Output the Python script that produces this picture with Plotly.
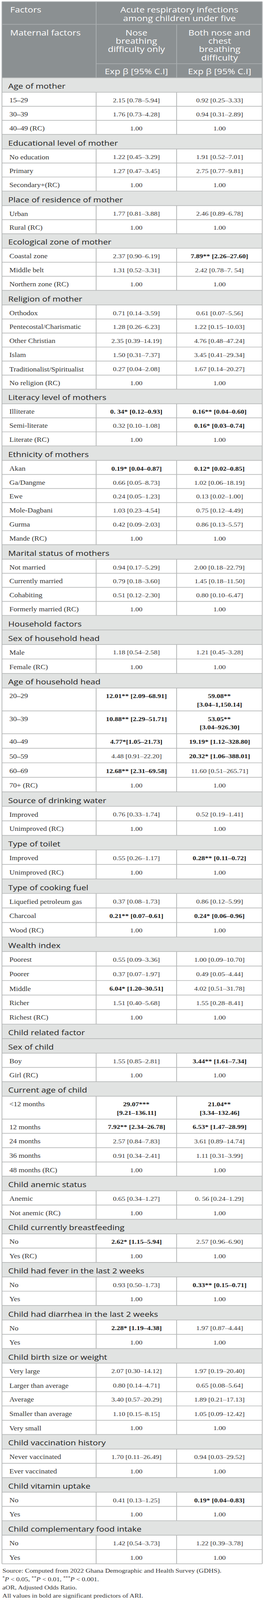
import plotly.graph_objects as go

# ---- data -------------------------------------------------------------
title_lines = ["Acute respiratory infections", "among children under five"]
nose_title = ["Nose", "breathing", "difficulty only"]
both_title = ["Both nose and", "chest", "breathing", "difficulty"]
stat_title = "Exp β [95% C.I]"

section_titles = [
    "Age of mother", "Educational level of mother", "Place of residence of mother",
    "Ecological zone of mother", "Religion of mother", "Literacy level of mothers",
    "Ethnicity of mothers", "Marital status of mothers", "Household factors",
    "Sex of household head", "Age of household head", "Source of drinking water",
    "Type of toilet", "Type of cooking fuel", "Wealth index", "Child related factor",
    "Sex of child", "Current age of child", "Child anemic status",
    "Child currently breastfeeding", "Child had fever in the last 2 weeks",
    "Child had diarrhea in the last 2 weeks", "Child birth size or weight",
    "Child vaccination history", "Child vitamin uptake", "Child complementary food intake",
]
rows_per_section = [3, 3, 2, 3, 6, 3, 6, 4, 0, 2, 6, 2, 2, 3, 5, 0, 2, 5, 2, 2, 2, 2, 5, 2, 2, 2]

row_labels = [
    "15–29", "30–39", "40–49 (RC)",
    "No education", "Primary", "Secondary+(RC)",
    "Urban", "Rural (RC)",
    "Coastal zone", "Middle belt", "Northern zone (RC)",
    "Orthodox", "Pentecostal/Charismatic", "Other Christian", "Islam",
    "Traditionalist/Spiritualist", "No religion (RC)",
    "Illiterate", "Semi-literate", "Literate (RC)",
    "Akan", "Ga/Dangme", "Ewe", "Mole-Dagbani", "Gurma", "Mande (RC)",
    "Not married", "Currently married", "Cohabiting", "Formerly married (RC)",
    "Male", "Female (RC)",
    "20–29", "30–39", "40–49", "50–59", "60–69", "70+ (RC)",
    "Improved", "Unimproved (RC)",
    "Improved", "Unimproved (RC)",
    "Liquefied petroleum gas", "Charcoal", "Wood (RC)",
    "Poorest", "Poorer", "Middle", "Richer", "Richest (RC)",
    "Boy", "Girl (RC)",
    "&lt;12 months", "12 months", "24 months", "36 months", "48 months (RC)",
    "Anemic", "Not anemic (RC)",
    "No", "Yes (RC)",
    "No", "Yes",
    "No", "Yes",
    "Very large", "Larger than average", "Average", "Smaller than average", "Very small",
    "Never vaccinated", "Ever vaccinated",
    "No", "Yes",
    "No", "Yes",
]

nose_only = [
    "2.15 [0.78–5.94]", "1.76 [0.73–4.28]", "1.00",
    "1.22 [0.45–3.29]", "1.27 [0.47–3.45]", "1.00",
    "1.77 [0.81–3.88]", "1.00",
    "2.37 [0.90–6.19]", "1.31 [0.52–3.31]", "1.00",
    "0.71 [0.14–3.59]", "1.28 [0.26–6.23]", "2.35 [0.39–14.19]", "1.50 [0.31–7.37]",
    "0.27 [0.04–2.08]", "1.00",
    "0. 34* [0.12–0.93]", "0.32 [0.10–1.08]", "1.00",
    "0.19* [0.04–0.87]", "0.66 [0.05–8.73]", "0.24 [0.05–1.23]", "1.03 [0.23–4.54]",
    "0.42 [0.09–2.03]", "1.00",
    "0.94 [0.17–5.29]", "0.79 [0.18–3.60]", "0.51 [0.12–2.30]", "1.00",
    "1.18 [0.54–2.58]", "1.00",
    "12.01** [2.09–68.91]", "10.88** [2.29–51.71]", "4.77*[1.05–21.73]",
    "4.48 [0.91–22.20]", "12.68** [2.31–69.58]", "1.00",
    "0.76 [0.33–1.74]", "1.00",
    "0.55 [0.26–1.17]", "1.00",
    "0.37 [0.08–1.73]", "0.21** [0.07–0.61]", "1.00",
    "0.55 [0.09–3.36]", "0.37 [0.07–1.97]", "6.04* [1.20–30.51]", "1.51 [0.40–5.68]", "1.00",
    "1.55 [0.85–2.81]", "1.00",
    "29.07***<br>[9.21–136.11]", "7.92** [2.34–26.78]", "2.57 [0.84–7.83]",
    "0.91 [0.34–2.41]", "1.00",
    "0.65 [0.34–1.27]", "1.00",
    "2.62* [1.15–5.94]", "1.00",
    "0.93 [0.50–1.73]", "1.00",
    "2.28* [1.19–4.38]", "1.00",
    "2.07 [0.30–14.12]", "0.80 [0.14–4.71]", "3.40 [0.57–20.29]", "1.10 [0.15–8.15]", "1.00",
    "1.70 [0.11–26.49]", "1.00",
    "0.41 [0.13–1.25]", "1.00",
    "1.42 [0.54–3.73]", "1.00",
]

nose_chest = [
    "0.92 [0.25–3.33]", "0.94 [0.31–2.89]", "1.00",
    "1.91 [0.52–7.01]", "2.75 [0.77–9.81]", "1.00",
    "2.46 [0.89–6.78]", "1.00",
    "7.89** [2.26–27.60]", "2.42 [0.78–7. 54]", "1.00",
    "0.61 [0.07–5.56]", "1.22 [0.15–10.03]", "4.76 [0.48–47.24]", "3.45 [0.41–29.34]",
    "1.67 [0.14–20.27]", "1.00",
    "0.16** [0.04–0.60]", "0.16* [0.03–0.74]", "1.00",
    "0.12* [0.02–0.85]", "1.02 [0.06–18.19]", "0.13 [0.02–1.00]", "0.75 [0.12–4.49]",
    "0.86 [0.13–5.57]", "1.00",
    "2.00 [0.18–22.79]", "1.45 [0.18–11.50]", "0.80 [0.10–6.47]", "1.00",
    "1.21 [0.45–3.28]", "1.00",
    "59.08**<br>[3.04–1,150.14]", "53.05**<br>[3.04–926.30]", "19.19* [1.12–328.80]",
    "20.32* [1.06–388.01]", "11.60 [0.51–265.71]", "1.00",
    "0.52 [0.19–1.41]", "1.00",
    "0.28** [0.11–0.72]", "1.00",
    "0.86 [0.12–5.99]", "0.24* [0.06–0.96]", "1.00",
    "1.00 [0.09–10.70]", "0.49 [0.05–4.44]", "4.02 [0.51–31.78]", "1.55 [0.28–8.41]", "1.00",
    "3.44** [1.61–7.34]", "1.00",
    "21.04**<br>[3.34–132.46]", "6.53* [1.47–28.99]", "3.61 [0.89–14.74]",
    "1.11 [0.31–3.99]", "1.00",
    "0. 56 [0.24–1.29]", "1.00",
    "2.57 [0.96–6.90]", "1.00",
    "0.33** [0.15–0.71]", "1.00",
    "1.97 [0.87–4.44]", "1.00",
    "1.97 [0.19–20.40]", "0.65 [0.08–5.64]", "1.89 [0.21–17.13]", "1.05 [0.09–12.42]", "1.00",
    "0.94 [0.03–29.52]", "1.00",
    "0.19* [0.04–0.83]", "1.00",
    "1.22 [0.39–3.78]", "1.00",
]

footnotes = [
    "Source: Computed from 2022 Ghana Demographic and Health Survey (GDHS).",
    "<sup>*</sup><i>P</i> &lt; 0.05, <sup>**</sup><i>P</i> &lt; 0.01, <sup>***</sup><i>P</i> &lt; 0.001.",
    "aOR, Adjusted Odds Ratio.",
    "All values in bold are significant predictors of ARI.",
]

# ---- layout constants (pixels) -----------------------------------------
W, H = 673, 4794
X0, X1, X2, X3 = 5, 246, 452, 671
HEAD_A, HEAD_B, HEAD_C, BODY_TOP = 5, 73, 191, 233
SEC_H, TALL_H = 43.5, 68.5
# data rows are a touch taller in the household block than elsewhere
block_start = {"Age of mother": 42.1, "Household factors": 43.5, "Child related factor": 42.8}
LINE_GAP = 25

HEAD_BG, HEAD_LINE = "#8b9092", "#a9adaf"
SEC_BG, GRID = "#e1e3e2", "#b6b8b8"
SANS, SERIF = "Open Sans", "Liberation Serif"

fig = go.Figure()
shapes = []
notes = []


def text(x, y, s, size, family, color, anchor="left"):
    notes.append(dict(x=x, y=y, text=s, showarrow=False, xref="x", yref="y",
                      xanchor=anchor, yanchor="middle",
                      font=dict(size=size, family=family, color=color)))


def hline(y, xa=X0, xb=X3, color=GRID):
    shapes.append(dict(type="line", x0=xa, x1=xb, y0=y, y1=y, xref="x", yref="y",
                       line=dict(color=color, width=2)))


def vline(x, ya, yb, color=GRID):
    shapes.append(dict(type="line", x0=x, x1=x, y0=ya, y1=yb, xref="x", yref="y",
                       line=dict(color=color, width=2)))


# header block
shapes.append(dict(type="rect", x0=X0, x1=X3, y0=HEAD_A, y1=BODY_TOP, xref="x", yref="y",
                   fillcolor=HEAD_BG, line=dict(width=0), layer="below"))
hline(HEAD_A, color=HEAD_LINE)
hline(HEAD_B, color=HEAD_LINE)
hline(HEAD_C, X1, X3, color=HEAD_LINE)
vline(X1, HEAD_A, BODY_TOP, color=HEAD_LINE)
vline(X2, HEAD_B, BODY_TOP, color=HEAD_LINE)
vline(X0, HEAD_A, BODY_TOP, color=HEAD_LINE)
vline(X3, HEAD_A, BODY_TOP, color=HEAD_LINE)

c2 = (X1 + X2) / 2
c3 = (X2 + X3) / 2
text(24, HEAD_A + 24, "Factors", 23.5, SANS, "white")
for i, s in enumerate(title_lines):
    text((X1 + X3) / 2, HEAD_A + 24 + i * LINE_GAP, s, 23.5, SANS, "white", "center")
text(24, HEAD_B + 24, "Maternal factors", 23.5, SANS, "white")
for i, s in enumerate(nose_title):
    text(c2, HEAD_B + 24 + i * LINE_GAP, s, 23.5, SANS, "white", "center")
for i, s in enumerate(both_title):
    text(c3, HEAD_B + 24 + i * LINE_GAP, s, 23.5, SANS, "white", "center")
text(c2, HEAD_C + 22, stat_title, 23.5, SANS, "white", "center")
text(c3, HEAD_C + 22, stat_title, 23.5, SANS, "white", "center")


def value_cell(x, top, val):
    bold = "*" in val
    for i, part in enumerate(val.split("<br>")):
        s = f"<b>{part}</b>" if bold else part
        text(x, top + 24 + i * LINE_GAP, s, 18, SERIF, "#1a1a1a" if bold else "#333333", "center")


# body
y = BODY_TOP
k = 0
row_h = 42.7
for title, n in zip(section_titles, rows_per_section):
    row_h = block_start.get(title, row_h)
    shapes.append(dict(type="rect", x0=X0, x1=X3, y0=y, y1=y + SEC_H, xref="x", yref="y",
                       fillcolor=SEC_BG, line=dict(width=0), layer="below"))
    text(19, y + 24, title, 22, SANS, "#222222")
    hline(y)
    y += SEC_H
    start = y
    for j in range(k, k + n):
        tall = "<br>" in nose_only[j] or "<br>" in nose_chest[j]
        h = TALL_H if tall else row_h
        hline(y)
        text(22, y + 24, row_labels[j], 19, SERIF, "#333333")
        value_cell(c2, y, nose_only[j])
        value_cell(c3, y, nose_chest[j])
        y += h
    if n:
        vline(X1, start, y)
        vline(X2, start, y)
    k += n
hline(y)
vline(X0, BODY_TOP, y)
vline(X3, BODY_TOP, y)

for i, s in enumerate(footnotes):
    text(4, y + 20 + i * 25, s, 17.5, SERIF, "#333333")

fig.update_layout(
    width=W, height=H, margin=dict(l=0, r=0, t=0, b=0),
    paper_bgcolor="white", plot_bgcolor="white",
    xaxis=dict(range=[0, W], visible=False, fixedrange=True),
    yaxis=dict(range=[H, 0], visible=False, fixedrange=True),
    shapes=shapes, annotations=notes, showlegend=False,
)

# the browser window is shorter than the figure and the shot gets stretched
# back to full height, so squeeze the plot into the window vertically
fit = ("var gd=document.getElementById('{plot_id}');"
       "document.documentElement.style.overflow='hidden';"
       "document.body.style.margin='0';"
       "gd.style.transformOrigin='0 0';"
       "gd.style.transform='scale(1,'+(window.innerHeight/" + str(H) + ")+')';")
fig.write_html("out.html", config={"displayModeBar": False}, post_script=fit)
